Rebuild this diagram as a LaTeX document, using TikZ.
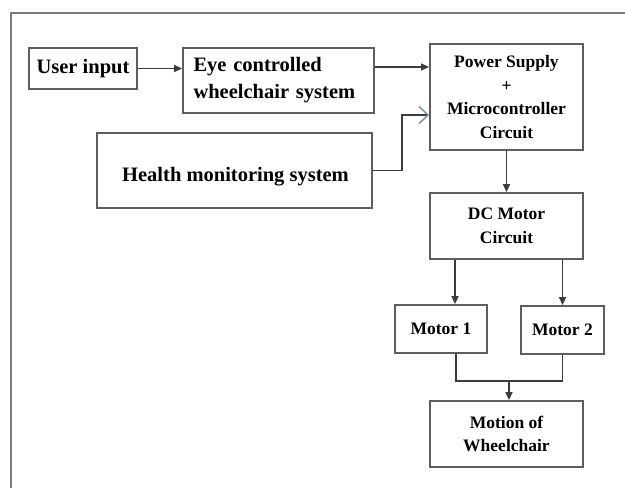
\documentclass[tikz,border=0pt]{standalone}
\usepackage{fontspec}
\setmainfont{Liberation Serif}
\usetikzlibrary{arrows.meta,calc}
\definecolor{boxgray}{HTML}{5E5E5E}
\definecolor{linegray}{HTML}{3C3C3C}
\definecolor{framegray}{HTML}{7A7A7A}
\definecolor{tipblue}{HTML}{6F93A8}
\tikzset{
  blk/.style={draw=boxgray, line width=1.8pt, fill=white, inner sep=0pt},
  bigtxt/.style={font=\fontsize{20.5}{27}\selectfont\bfseries},
  smalltxt/.style={font=\fontsize{17.5}{23.5}\selectfont\bfseries, align=center},
  arr/.style={draw=linegray, line width=1.5pt, -{Triangle[length=8pt,width=7pt]}},
  conn/.style={draw=linegray, line width=1.5pt},
  openarr/.style={draw=linegray, line width=1.5pt, -{Straight Barb[length=9pt,width=17pt,color=tipblue,line width=1.4pt]}}
}
\begin{document}
\begin{tikzpicture}[x=1pt,y=-1pt]
\useasboundingbox[fill=white] (0,0) rectangle (625,488);
\draw[framegray, line width=2pt] (11,488) -- (11,13) -- (625,13);

\node[blk, bigtxt, minimum width=108pt, minimum height=41pt] (user) at (83,68.5) {User input};
\node[blk, bigtxt, minimum width=191pt, minimum height=65pt, align=left, text width=170pt] (eye) at (278.5,80.5) {Eye controlled\\wheelchair system};
\node[blk, minimum width=275pt, minimum height=75pt] (health) at (234.5,170.5) {};
\node[bigtxt] (healthtxt) at (235.5,177) {Health monitoring system};
\node[blk, smalltxt, minimum width=153pt, minimum height=106pt] (power) at (506.5,97) {Power Supply\\+\\Microcontroller\\Circuit};
\node[blk, smalltxt, minimum width=153pt, minimum height=66pt] (dc) at (506.5,226) {DC Motor\\Circuit};
\node[blk, smalltxt, minimum width=92pt, minimum height=48pt] (m1) at (441,329) {Motor 1};
\node[blk, smalltxt, minimum width=83pt, minimum height=48pt] (m2) at (562.5,330) {Motor 2};
\node[blk, smalltxt, minimum width=153pt, minimum height=66pt] (motion) at (506.5,434) {Motion of\\Wheelchair};

\draw[arr] (user.east) -- (user.east -| eye.west);
\draw[arr] ([yshift=13.5pt]eye.east) -- ([yshift=13.5pt]eye.east -| power.west);
\draw[openarr] (health.east) -- ++(29,0) |- ([yshift=-18pt]power.west);
\draw[arr] (power.south) -- (dc.north);

\coordinate (m1in) at ($(m1.north)+(14,0)$);
\coordinate (m2in) at (m2.north);
\draw[arr] (m1in |- dc.south) -- (m1in);
\draw[arr] (m2in |- dc.south) -- (m2in);

\coordinate (j) at ($(motion.north)+(2.5,-19)$);
\coordinate (m1out) at ($(m1.south)+(15,0)$);
\coordinate (m2out) at (m2.south);
\draw[conn] (m1out) -- (m1out |- j) -- (m2out |- j) -- (m2out);
\draw[arr] (j) -- (j |- motion.north);
\end{tikzpicture}
\end{document}
